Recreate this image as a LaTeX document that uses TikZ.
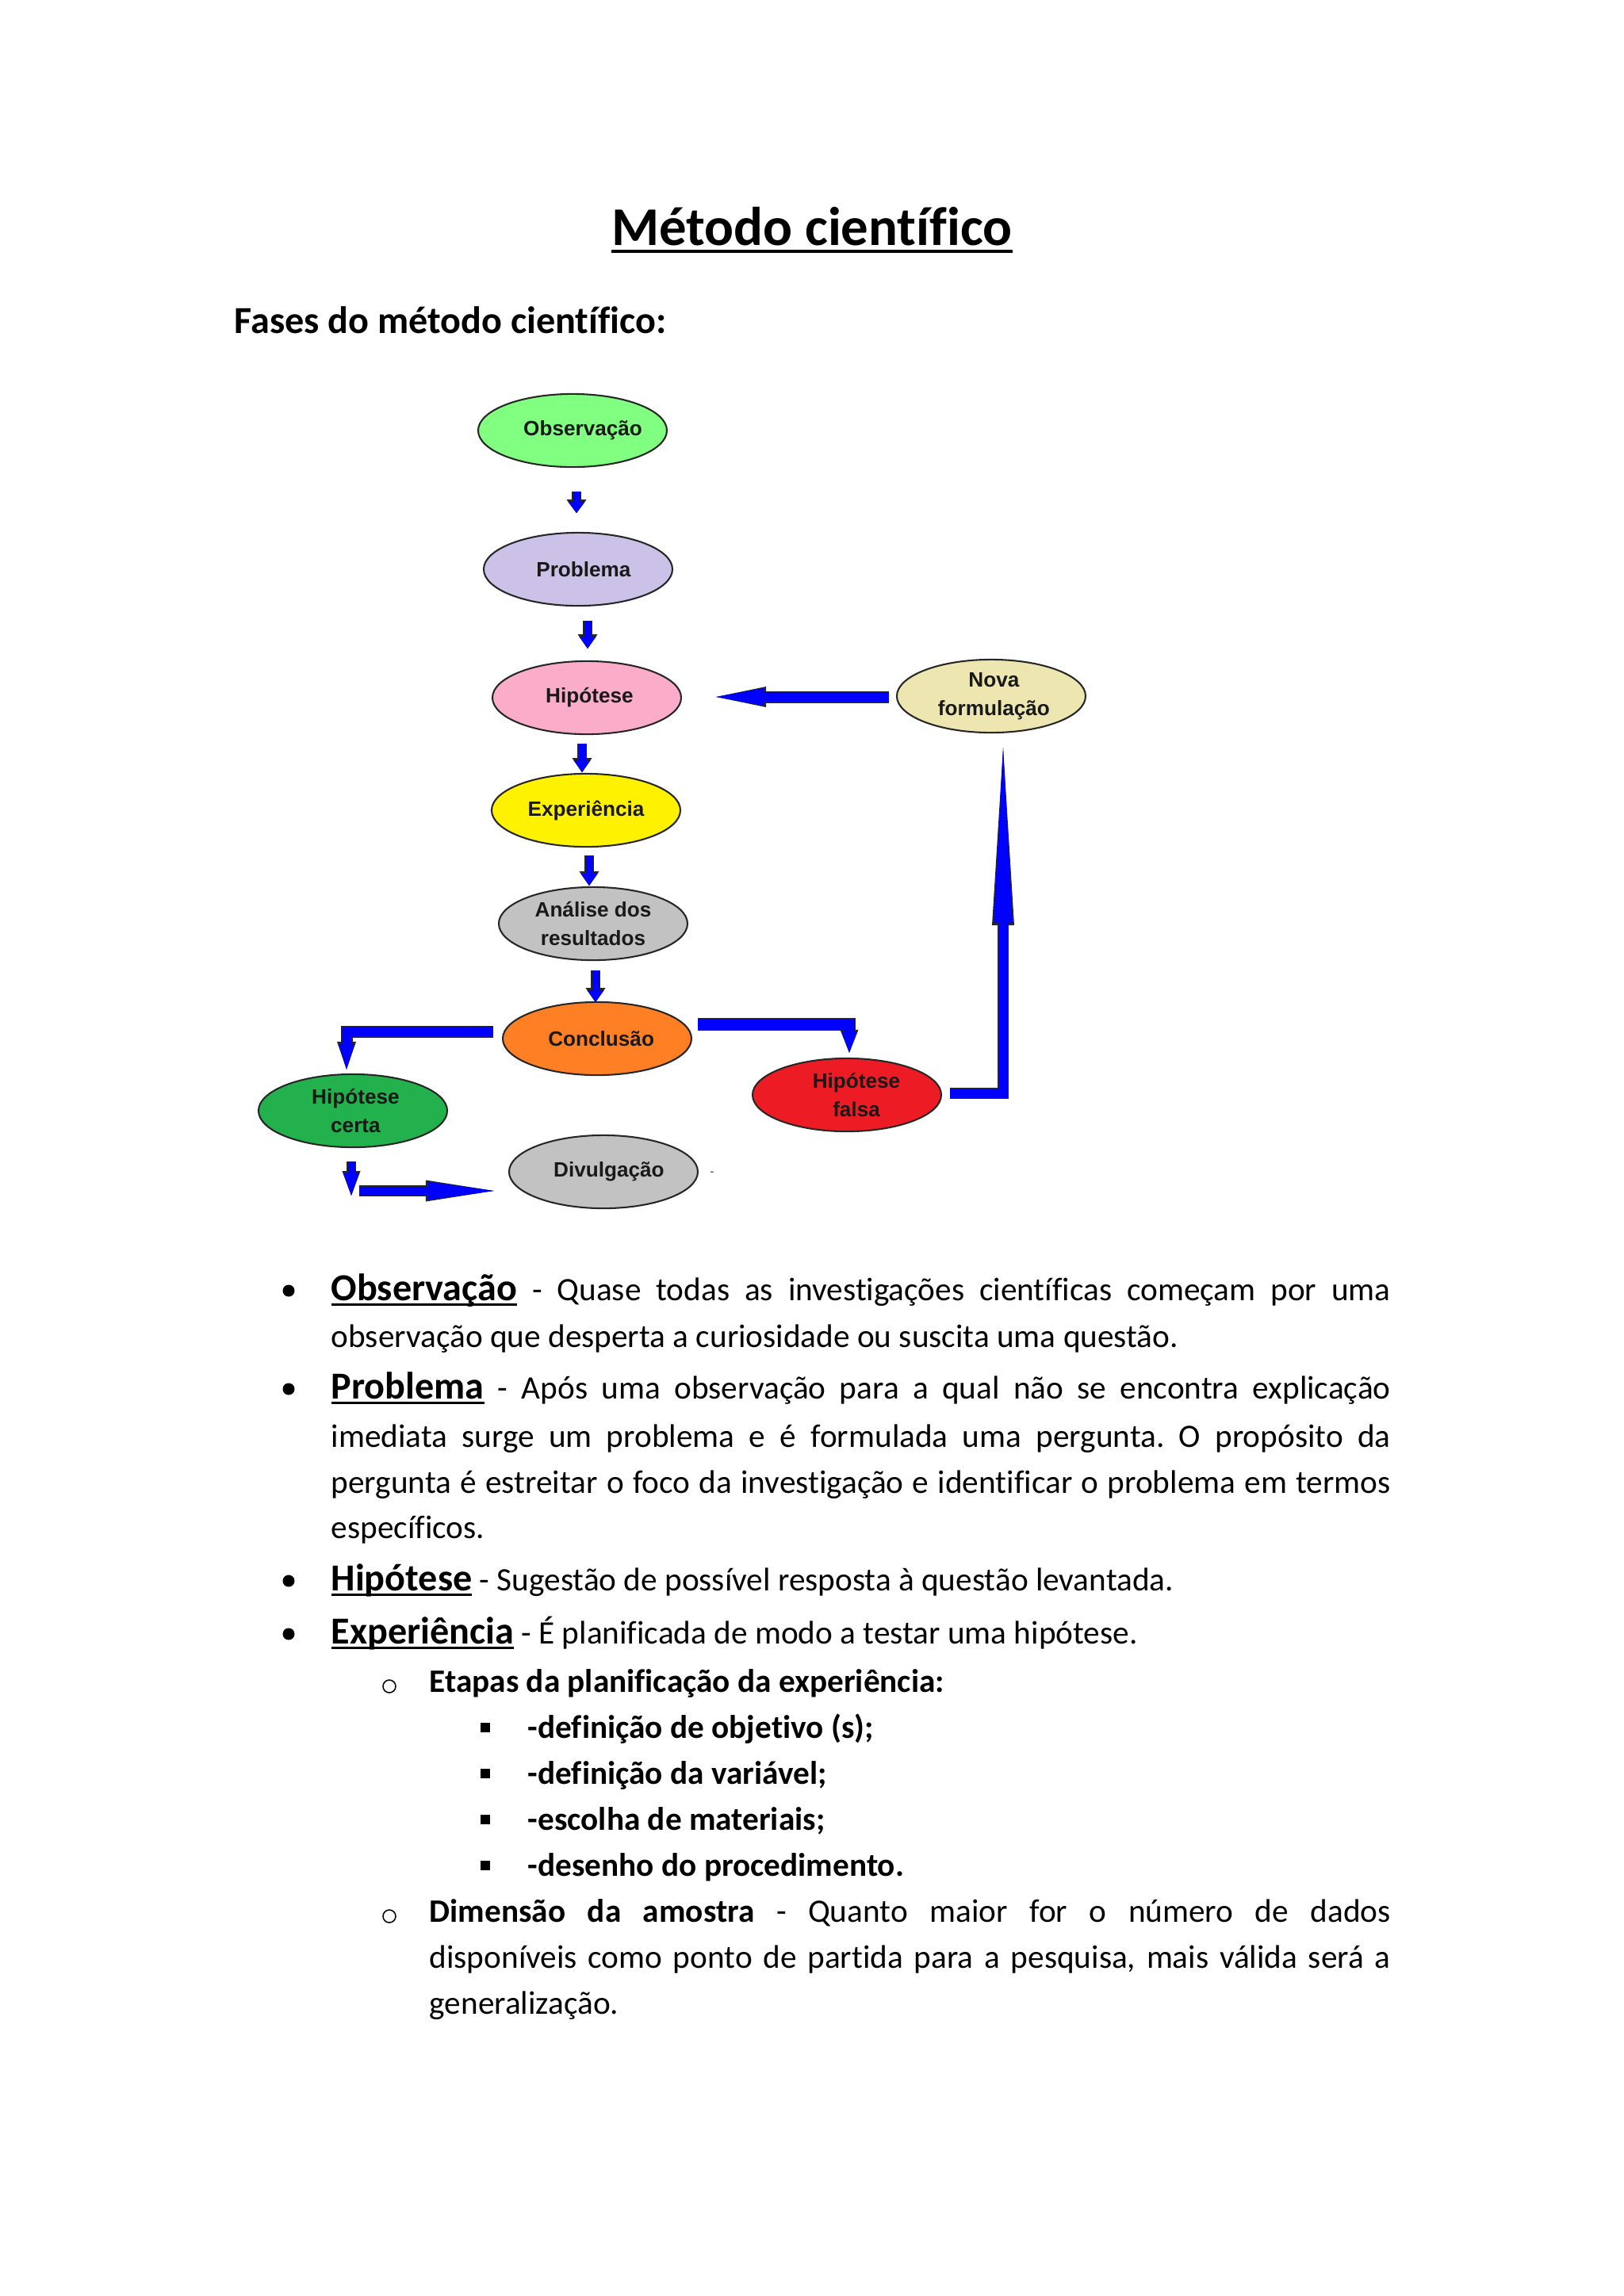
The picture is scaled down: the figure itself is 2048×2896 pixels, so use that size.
\documentclass[tikz,border=0pt]{standalone}
\usepackage{fontspec}
\setmainfont{Carlito}[Ligatures=NoCommon]
\newfontfamily\diagfont{Liberation Sans}
\usetikzlibrary{shapes.geometric,arrows.meta,calc}
\definecolor{obsc}{RGB}{128,255,128}
\definecolor{probc}{RGB}{204,194,232}
\definecolor{hipc}{RGB}{250,172,200}
\definecolor{expc}{RGB}{255,242,0}
\definecolor{grayc}{RGB}{194,194,194}
\definecolor{concc}{RGB}{255,128,36}
\definecolor{certac}{RGB}{34,177,76}
\definecolor{falsac}{RGB}{237,28,36}
\definecolor{novac}{RGB}{238,230,176}
\definecolor{arrblue}{RGB}{0,0,255}
\newcommand\ulx[3]{\setbox0\hbox{#3}\rlap{\rule[-#1]{\wd0}{#2}}\box0}
\newcommand\hd[1]{{\fontsize{14}{17}\selectfont\bfseries\ulx{2pt}{0.9pt}{#1}}}
\newcommand\jline[1]{\makebox[388.4pt][s]{#1}}
\newcommand\jlineb[1]{\makebox[352.4pt][s]{#1}}
\newcommand\sh[1]{\hspace*{#1pt}}
\newcommand\ctr[2]{\makebox[0pt]{\hspace*{#1pt}#2}}
\newcommand\barrow[4]{%
  \pgfmathsetmacro\bsw{#1*0.29072}\pgfmathsetmacro\bswo{(#1+3)*0.29072}%
  \pgfmathsetmacro\bhw{#2*0.29072}\pgfmathsetmacro\bhwo{(#2+4)*0.29072}%
  \pgfmathsetmacro\bhl{#3*0.29072}\pgfmathsetmacro\bhlo{(#3+3)*0.29072}%
  \draw[arrowline, draw=black!85, line width=\bswo pt, -{Triangle[length=\bhlo pt, width=\bhwo pt, line width=0pt]}] #4;
  \draw[arrowline, draw=arrblue, line width=\bsw pt, -{Triangle[length=\bhl pt, width=\bhw pt, line width=0pt]}] #4;}
\begin{document}
\frenchspacing
\begin{tikzpicture}[x=0.29072pt,y=-0.29072pt,
  stage/.style={ellipse, draw=black!85, line width=0.6pt, minimum width=69.2pt,
    minimum height=26.8pt, inner sep=0pt, align=center, text=black!90,
    font=\diagfont\bfseries\fontsize{7.6}{10.5}\selectfont},
  body/.style={anchor=base west, inner sep=0pt, font=\fontsize{12}{14}\selectfont},
  bodyb/.style={body, font=\fontsize{12}{14}\selectfont\bfseries},
  arrowline/.style={line join=miter, line cap=butt}]
\useasboundingbox (0,0) rectangle (2048,2896);

% title and heading
\node[anchor=base, inner sep=0pt, font=\fontsize{20}{24}\selectfont\bfseries] (title) at (1024,309)
  {\ulx{2.9pt}{1.16pt}{Método científico}};
\node[anchor=base west, inner sep=0pt, font=\fontsize{14}{17}\selectfont\bfseries] (fases) at (295,420)
  {Fases do método científico:};

% diagram nodes
\node[stage, fill=obsc] (obs) at (722,543) {\ctr{7.6}{Observação}};
\node[stage, fill=probc] (prob) at (729,718) {\ctr{4}{Problema}};
\node[stage, fill=hipc] (hip) at (740,880) {\ctr{2}{Hipótese}};
\node[stage, fill=novac] (nova) at (1250,878) {\sh{2}Nova\\\sh{2}formulação};
\node[stage, fill=expc] (exp) at (739,1022) {Experiência};
\node[stage, fill=grayc] (ana) at (748,1165) {Análise dos\\resultados};
\node[stage, fill=concc] (conc) at (753,1310) {\ctr{3}{Conclusão}};
\node[stage, fill=certac] (certa) at (445,1401) {\sh{2}Hipótese\\\sh{2}certa};
\node[stage, fill=falsac] (falsa) at (1068,1381) {\sh{7}Hipótese\\\sh{7}falsa};
\node[stage, fill=grayc] (div) at (761,1478) {\ctr{4}{Divulgação}};
\node[inner sep=0pt, font=\fontsize{5}{5}\selectfont, text=black!70] (speck) at (898,1481) {-};

% connectors
\barrow{9}{21}{14}{($(obs.south)+(5,30)$) -- ++(0,27)}
\barrow{9}{21}{15}{($(prob.south)+(12,18)$) -- ++(0,35)}
\barrow{9}{21}{15}{($(hip.south)+(-6,11)$) -- ++(0,36)}
\barrow{9}{21}{15}{($(exp.south)+(4,10)$) -- ++(0,38)}
\barrow{9}{21}{15}{($(ana.south)+(3,12)$) -- ++(0,40)}
\barrow{12}{20}{32}{($(conc.west)+(-11,-9)$) -| ($(certa.north)+(-8,-5)$)}
\barrow{13}{19}{26}{($(conc.east)+(7,-18)$) -| ($(falsa.north)+(3,-6)$)}
\barrow{11}{24}{221}{($(falsa.east)+(10,-2)$) -| ($(nova.south)+(15,18)$)}
\barrow{12}{22}{60}{($(nova.west)+(-9,1)$) -- ($(hip.east)+(43,-1)$)}
\barrow{9}{19}{28}{($(certa.south)+(-2,17)$) -- ++(0,43)}
\barrow{11}{23}{83}{($(div.west)+(-188,24)$) -- ($(div.west)+(-18,24)$)}

% bullets
\fill (364,1628) circle (7.5);
\fill (364,1752) circle (7.5);
\fill (364,1994) circle (7.5);
\fill (364,2061) circle (7.5);
\draw[line width=0.45pt] (491,2127) circle (8);
\draw[line width=0.45pt] (491,2417) circle (8);
\fill (606,2173) rectangle ++(12,12);
\fill (606,2231) rectangle ++(12,12);
\fill (606,2289) rectangle ++(12,12);
\fill (606,2347) rectangle ++(12,12);

% body text
\node[body] (l1) at (417,1640) {\jline{\hd{Observação} - Quase todas as investigações científicas começam por uma}};
\node[body] (l2) at (417,1699) {observação que desperta a curiosidade ou suscita uma questão.};
\node[body] (l3) at (417,1764) {\jline{\hd{Problema} - Após uma observação para a qual não se encontra explicação}};
\node[body] (l4) at (417,1825) {\jline{imediata surge um problema e é formulada uma pergunta. O propósito da}};
\node[body] (l5) at (417,1883) {\jline{pergunta é estreitar o foco da investigação e identificar o problema em termos}};
\node[body] (l6) at (417,1940) {específicos.};
\node[body] (l7) at (417,2006) {\hd{Hipótese} - Sugestão de possível resposta à questão levantada.};
\node[body] (l8) at (417,2073) {\hd{Experiência} - É planificada de modo a testar uma hipótese.};
\node[bodyb] (l9) at (541,2134) {Etapas da planificação da experiência:};
\node[bodyb] (l10) at (665,2192) {-definição de objetivo (s);};
\node[bodyb] (l11) at (665,2250) {-definição da variável;};
\node[bodyb] (l12) at (665,2308) {-escolha de materiais;};
\node[bodyb] (l13) at (665,2366) {-desenho do procedimento.};
\node[body] (l14) at (541,2424) {\jlineb{\textbf{Dimensão da amostra} - Quanto maior for o número de dados}};
\node[body] (l15) at (541,2482) {\jlineb{disponíveis como ponto de partida para a pesquisa, mais válida será a}};
\node[body] (l16) at (541,2540) {generalização.};
\end{tikzpicture}
\end{document}
